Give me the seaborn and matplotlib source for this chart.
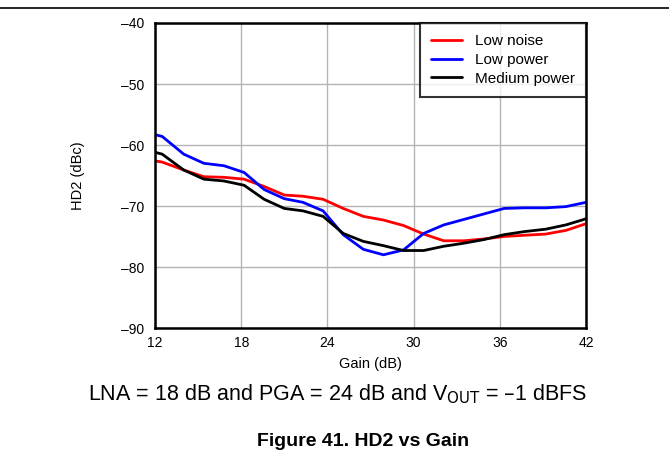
import matplotlib
matplotlib.use("Agg")
import matplotlib.pyplot as plt
import seaborn as sns
import pandas as pd
from matplotlib.lines import Line2D

gain = [12.0, 12.5, 14.0, 15.4, 16.8, 18.2, 19.6, 21.0, 22.3, 23.7, 25.1, 26.5,
        27.9, 29.3, 30.7, 32.1, 33.5, 34.9, 36.3, 37.7, 39.2, 40.6, 42.0]
low_noise = [-62.6, -62.8, -64.1, -65.2, -65.3, -65.6, -66.8, -68.2, -68.4, -68.9,
             -70.4, -71.7, -72.3, -73.2, -74.6, -75.7, -75.7, -75.4, -75.0, -74.8,
             -74.6, -74.0, -72.9]
low_power = [-58.3, -58.6, -61.5, -63.0, -63.4, -64.5, -67.3, -68.8, -69.4, -70.8,
             -74.7, -77.1, -78.0, -77.2, -74.5, -73.1, -72.2, -71.3, -70.4, -70.3,
             -70.3, -70.1, -69.4]
medium_power = [-61.2, -61.5, -64.1, -65.6, -65.9, -66.6, -68.9, -70.4, -70.8, -71.7,
                -74.5, -75.8, -76.5, -77.3, -77.3, -76.6, -76.1, -75.5, -74.7, -74.2,
                -73.8, -73.1, -72.1]
series_names = ["Low noise", "Low power", "Medium power"]
series_colors = ["#ff0000", "#0000ff", "#000000"]
x_ticks = [12, 18, 24, 30, 36, 42]
y_ticks = [-90, -80, -70, -60, -50, -40]

sns.set_theme(style="white")
plt.rcParams["font.family"] = ["Liberation Sans", "DejaVu Sans"]
plt.rcParams["text.color"] = "black"
plt.rcParams["axes.labelcolor"] = "black"
plt.rcParams["xtick.color"] = "black"
plt.rcParams["ytick.color"] = "black"

df = pd.concat([
    pd.DataFrame({"Gain": gain, "HD2": vals, "Mode": name})
    for name, vals in zip(series_names, [low_noise, low_power, medium_power])
])

fig = plt.figure(figsize=(6.69, 4.55), dpi=100)
ax = fig.add_axes([155 / 669, 1 - 328 / 455, 431 / 669, 305 / 455])

sns.lineplot(data=df, x="Gain", y="HD2", hue="Mode", hue_order=series_names,
             palette=series_colors, linewidth=2.0, ax=ax, legend=False, sort=False)

ax.set_xlim(12, 42)
ax.set_ylim(-90, -40)
ax.set_xticks(x_ticks)
ax.set_yticks(y_ticks)
ax.set_xticklabels([str(t) for t in x_ticks])
ax.set_yticklabels([str(t).replace("-", "\u2013") for t in y_ticks])
ax.grid(True, color="#b4b4b4", linewidth=1.0)
for s in ax.spines.values():
    s.set_color("black")
    s.set_linewidth(1.8)
ax.tick_params(axis="both", labelsize=10, length=0, colors="black")
ax.tick_params(axis="x", pad=6)
ax.tick_params(axis="y", pad=8)
ax.set_xlabel("Gain (dB)", fontsize=10.5)
ax.set_ylabel("HD2 (dBc)", fontsize=10.5)
ax.xaxis.set_label_coords(0.5, (328 - 357) / 305)
ax.yaxis.set_label_coords((85 - 155) / 431, 0.5)

handles = [Line2D([], [], color=c, linewidth=2.0) for c in series_colors]
leg = ax.legend(handles, series_names, loc="upper right", fontsize=11,
                frameon=True, fancybox=False, borderaxespad=0.0,
                handlelength=2.0, handletextpad=0.85, labelspacing=0.3,
                borderpad=0.75)
leg.get_frame().set_edgecolor("black")
leg.get_frame().set_linewidth(1.5)

fig.add_artist(Line2D([0, 1], [1 - 8 / 455, 1 - 8 / 455], color="black", linewidth=1.2))
fig.text(338 / 669, 1 - 394 / 455,
         "LNA = 18 dB and PGA = 24 dB and V$_{\\mathrm{OUT}}$ = \u20131 dBFS",
         ha="center", va="center", fontsize=15.5)
fig.text(363 / 669, 1 - 442 / 455, "Figure 41. HD2 vs Gain",
         ha="center", va="center", fontsize=14, fontweight="bold")

fig.savefig("out.png", dpi=100)
